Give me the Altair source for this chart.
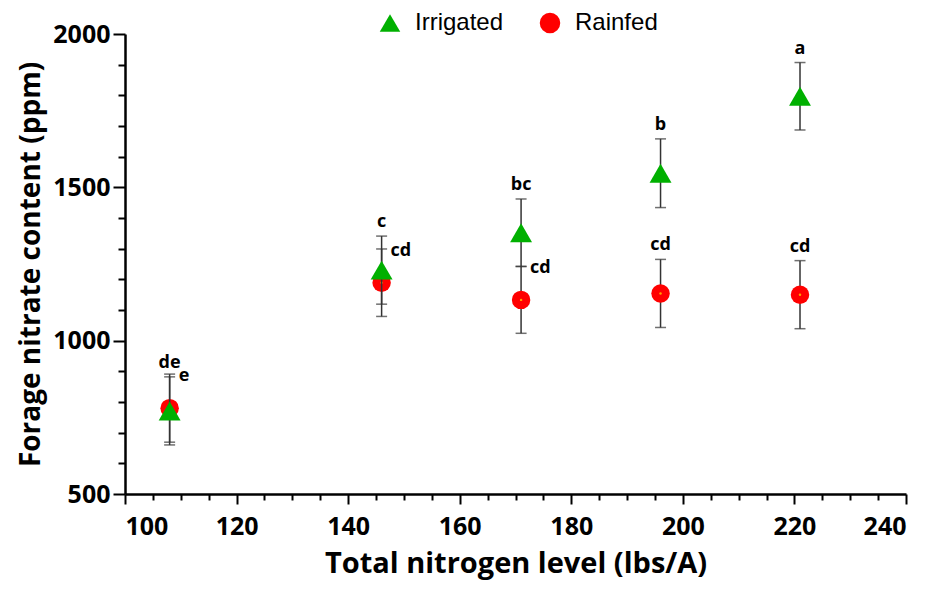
import altair as alt
import pandas as pd

# ---- data ----
nitrogen = [108, 146, 171, 196, 221]
irrigated_mean = [771, 1230, 1352, 1546, 1797]
irrigated_err = [111, 111, 110, 112, 110]
irrigated_letters = ["de", "c", "bc", "b", "a"]
rainfed_mean = [780, 1189, 1133, 1154, 1150]
rainfed_err = [111, 110, 109, 111, 111]
rainfed_letters = ["e", "cd", "cd", "cd", "cd"]
rainfed_label_side = ["right", "right", "right", "above", "above"]

series = ["Irrigated", "Rainfed"]
colors = ["#00B000", "#FF0000"]
shapes = ["triangle-up", "circle"]

irr = pd.DataFrame({"N": nitrogen, "mean": irrigated_mean, "err": irrigated_err,
                    "letter": irrigated_letters, "Treatment": "Irrigated", "side": "above"})
rain = pd.DataFrame({"N": nitrogen, "mean": rainfed_mean, "err": rainfed_err,
                     "letter": rainfed_letters, "Treatment": "Rainfed", "side": rainfed_label_side})
for d in (irr, rain):
    d["lo"] = d["mean"] - d["err"]
    d["hi"] = d["mean"] + d["err"]

FONT = "Open Sans"

x_scale = alt.Scale(domain=[100, 240], nice=False, zero=False)
y_scale = alt.Scale(domain=[500, 2000], nice=False, zero=False)

x_axis = alt.Axis(
    title="Total nitrogen level (lbs/A)",
    values=list(range(100, 241, 5)),
    labelExpr="datum.value % 20 === 0 ? datum.label : ''",
    format="d", labelOverlap=False,
    tickSize={"condition": {"test": "datum.value % 20 === 0", "value": 10}, "value": 6},
    grid=False, labelPadding=10, titlePadding=10,
)
y_axis = alt.Axis(
    title="Forage nitrate content (ppm)",
    values=list(range(500, 2001, 100)),
    labelExpr="datum.value % 500 === 0 ? datum.label : ''",
    format="d", labelOverlap=False,
    tickSize={"condition": {"test": "datum.value % 500 === 0", "value": 12}, "value": 7},
    grid=False, labelPadding=3, titlePadding=7, titleFontSize=28,
)


def X():
    return alt.X("N:Q", scale=x_scale, axis=x_axis)


def Yf(field):
    return alt.Y(f"{field}:Q", scale=y_scale, axis=y_axis)


color_enc = alt.Color("Treatment:N", scale=alt.Scale(domain=series, range=colors),
                      legend=alt.Legend(title=None, orient="none", direction="horizontal",
                                        legendX=253, legendY=-23))
shape_enc = alt.Shape("Treatment:N", scale=alt.Scale(domain=series, range=shapes))


def errbars(df):
    base = alt.Chart(df)
    rule = base.mark_rule(color="#333333", strokeWidth=1.5).encode(
        x=X(), y=Yf("lo"), y2="hi:Q")
    cap_lo = base.mark_tick(color="#333333", thickness=1.5, size=11, orient="horizontal").encode(
        x=X(), y=Yf("lo"))
    cap_hi = base.mark_tick(color="#333333", thickness=1.5, size=11, orient="horizontal").encode(
        x=X(), y=Yf("hi"))
    return rule + cap_lo + cap_hi


def points(df, size):
    return alt.Chart(df).mark_point(filled=True, opacity=1, size=size).encode(
        x=X(), y=Yf("mean"), color=color_enc, shape=shape_enc)


rain_pts = points(rain, 340)
rain_dot = alt.Chart(rain).mark_circle(color="#FFA000", size=6, opacity=1).encode(x=X(), y=Yf("mean"))
irr_pts = points(irr, 480)

label_style = dict(font=FONT, fontWeight="bold", fontSize=18, color="#000000")
irr_text = alt.Chart(irr).mark_text(baseline="alphabetic", align="center", dy=-9, **label_style).encode(
    x=X(), y=Yf("hi"), text="letter:N")
rain_above = alt.Chart(rain).transform_filter("datum.side === 'above'").mark_text(
    baseline="alphabetic", align="center", dy=-9, **label_style).encode(
    x=X(), y=Yf("hi"), text="letter:N")
rain_right = alt.Chart(rain).transform_filter("datum.side === 'right'").mark_text(
    baseline="middle", align="left", dx=9, dy=2, **label_style).encode(
    x=X(), y=Yf("hi"), text="letter:N")

chart = alt.layer(
    errbars(rain), rain_pts, rain_dot, errbars(irr), irr_pts,
    irr_text, rain_above, rain_right,
).properties(
    width=781, height=460,
    autosize=alt.AutoSizeParams(type="none"),
    padding={"left": 117, "top": 26, "right": 8, "bottom": 86},
).configure_view(stroke=None).configure_axis(
    domainColor="#000000", domainWidth=2.5, tickColor="#000000", tickWidth=2,
    labelFont=FONT, labelFontWeight="bold", labelFontSize=25, labelColor="#000000",
    titleFont=FONT, titleFontWeight="bold", titleFontSize=29, titleColor="#000000",
    labelOverlap=False,
).configure_legend(
    labelFont="Liberation Sans", labelFontSize=24, labelColor="#000000",
    symbolSize=420, symbolStrokeWidth=0, labelOffset=13, columnPadding=34, padding=0,
    symbolOpacity=1,
)

chart.save("out.html", embed_options={"renderer": "svg", "actions": False})
